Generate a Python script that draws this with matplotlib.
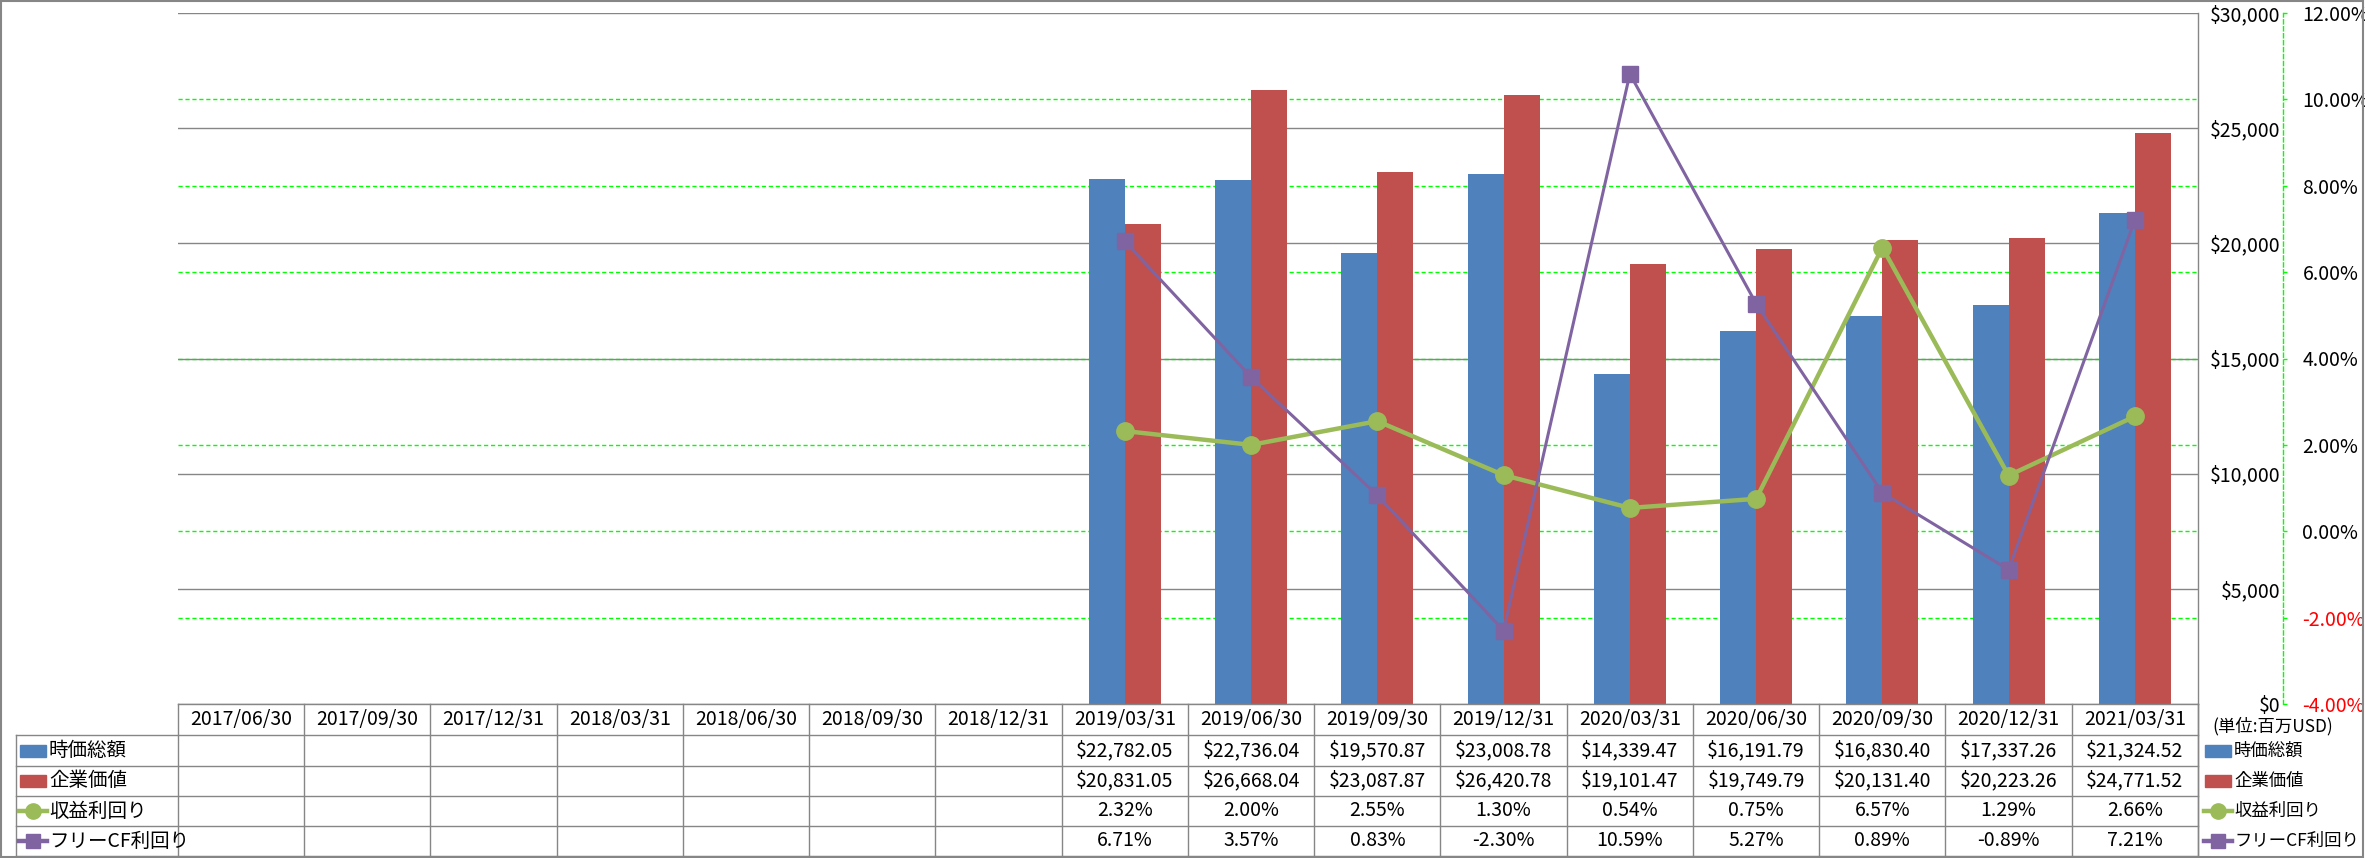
import numpy as np
import matplotlib.pyplot as plt
import matplotlib.transforms as mtransforms
from matplotlib.patches import Rectangle
from matplotlib.ticker import FuncFormatter

plt.rcParams['font.family'] = ['Noto Sans CJK JP', 'DejaVu Sans']

nan = np.nan
dates = ['2017/06/30', '2017/09/30', '2017/12/31', '2018/03/31', '2018/06/30',
         '2018/09/30', '2018/12/31', '2019/03/31', '2019/06/30', '2019/09/30',
         '2019/12/31', '2020/03/31', '2020/06/30', '2020/09/30', '2020/12/31',
         '2021/03/31']
market_cap = [nan, nan, nan, nan, nan, nan, nan,
              22782.05, 22736.04, 19570.87, 23008.78, 14339.47,
              16191.79, 16830.40, 17337.26, 21324.52]
ent_value = [nan, nan, nan, nan, nan, nan, nan,
             20831.05, 26668.04, 23087.87, 26420.78, 19101.47,
             19749.79, 20131.40, 20223.26, 24771.52]
earn_yield = [nan, nan, nan, nan, nan, nan, nan,
              2.32, 2.00, 2.55, 1.30, 0.54, 0.75, 6.57, 1.29, 2.66]
fcf_yield = [nan, nan, nan, nan, nan, nan, nan,
             6.71, 3.57, 0.83, -2.30, 10.59, 5.27, 0.89, -0.89, 7.21]
series_names = ['時価総額', '企業価値', '収益利回り', 'フリーCF利回り']
usd_ticks = [0, 5000, 10000, 15000, 20000, 25000, 30000]
pct_ticks = [-4, -2, 0, 2, 4, 6, 8, 10, 12]

BLUE = '#4F81BD'
RED = '#C0504D'
GREEN = '#9BBB59'
PURPLE = '#8064A2'
GRAY = '#868686'
LIME = '#00FF00'

W, H = 2365, 858
PL, PR, PT, PB = 178, 2198, 13, 704   # plot area in pixels

fig = plt.figure(figsize=(W / 100, H / 100), dpi=100)
ax = fig.add_axes([PL / W, 1 - PB / H, (PR - PL) / W, (PB - PT) / H])
ax2 = ax.twinx()

x = np.arange(len(dates))
bw = 0.2857
ax.bar(x - bw / 2, market_cap, bw, color=BLUE, zorder=2)
ax.bar(x + bw / 2, ent_value, bw, color=RED, zorder=2)

# percent gridlines drawn behind the bars (and under the gray ones)
trans = mtransforms.blended_transform_factory(ax.transAxes, ax2.transData)
for p in pct_ticks[1:-1]:
    ax.plot([0, 1], [p, p], transform=trans, color=LIME, lw=1.0,
            ls=(0, (3, 2)), zorder=0.3)

ax.set_xlim(-0.5, len(dates) - 0.5)
ax.set_ylim(0, 30000)
ax.set_xticks([])
ax.set_yticks(usd_ticks)
ax.yaxis.tick_right()
ax.yaxis.set_major_formatter(FuncFormatter(lambda v, p: f'${v:,.0f}'))
ax.tick_params(axis='y', length=0, pad=59, labelsize=14)
plt.setp(ax.get_yticklabels(), ha='right')
ax.grid(axis='y', color=GRAY, lw=1.0)
ax.set_axisbelow(True)
for s in ['left', 'top', 'bottom']:
    ax.spines[s].set_visible(False)
ax.spines['right'].set_color(GRAY)
ax.spines['right'].set_linewidth(1.0)

ax2.plot(x, earn_yield, color=GREEN, lw=3.2, marker='o', ms=12.5, zorder=3)
ax2.plot(x, fcf_yield, color=PURPLE, lw=2.2, marker='s', ms=11, zorder=4)
ax2.set_ylim(-4, 12)
ax2.set_yticks(pct_ticks)
ax2.yaxis.set_major_formatter(FuncFormatter(lambda v, p: f'{v:.2f}%'))
for s in ['left', 'top', 'bottom']:
    ax2.spines[s].set_visible(False)
ax2.spines['right'].set_position(('outward', 61.2))
ax2.spines['right'].set_color(LIME)
ax2.spines['right'].set_linestyle((0, (3, 2)))
ax2.spines['right'].set_linewidth(1.0)
ax2.tick_params(axis='y', colors=LIME, labelcolor='black', length=3,
                width=1, pad=11, labelsize=14)
for val, lab in zip(pct_ticks, ax2.get_yticklabels()):
    if val < 0:
        lab.set_color('red')

# overlay in pixel coordinates for the data table and the outer frame
ov = fig.add_axes([0, 0, 1, 1], zorder=5)
ov.set_xlim(0, W)
ov.set_ylim(H, 0)
ov.axis('off')
ov.patch.set_alpha(0)

col_w = (PR - PL) / len(dates)
rows_y = [704, 735, 766, 796, 826, 856]
LL = 16
lc = dict(color=GRAY, lw=1.0)
ov.plot([PL, PR], [rows_y[0], rows_y[0]], **lc)
for yy in rows_y[1:]:
    ov.plot([LL, PR], [yy, yy], **lc)
for k in range(len(dates) + 1):
    xx = PL + k * col_w
    ov.plot([xx, xx], [rows_y[0], rows_y[-1]], **lc)
ov.plot([LL, LL], [rows_y[1], rows_y[-1]], **lc)
ov.plot([PR, PR], [PB, H - 1], **lc)

centers = [(rows_y[i] + rows_y[i + 1]) / 2 for i in range(5)]
for i, d in enumerate(dates):
    cx = PL + (i + 0.5) * col_w
    ov.text(cx, centers[0], d, ha='center', va='center', fontsize=14)
    vals = [market_cap[i], ent_value[i], earn_yield[i], fcf_yield[i]]
    for r, v in enumerate(vals):
        if np.isnan(v):
            continue
        s = f'${v:,.2f}' if r < 2 else f'{v:.2f}%'
        ov.text(cx, centers[r + 1], s, ha='center', va='center', fontsize=14)


def legend_key(x0, cy, r):
    if r == 0 or r == 1:
        ov.add_patch(Rectangle((x0, cy - 6), 26, 12,
                               color=BLUE if r == 0 else RED))
    elif r == 2:
        ov.plot([x0 - 1, x0 + 27], [cy, cy], color=GREEN, lw=3.2)
        ov.plot([x0 + 13], [cy], color=GREEN, marker='o', ms=11)
    else:
        ov.plot([x0 - 1, x0 + 27], [cy, cy], color=PURPLE, lw=3.2)
        ov.plot([x0 + 13], [cy], color=PURPLE, marker='s', ms=10)


for r, name in enumerate(series_names):
    cy = centers[r + 1]
    legend_key(20, cy, r)
    ov.text(49, cy, name, ha='left', va='center', fontsize=14)
    legend_key(2205, cy, r)
    ov.text(2234, cy, name, ha='left', va='center', fontsize=12.5)

ov.text(2212, 726, '(単位:百万USD)', ha='left', va='center', fontsize=12.5)

ov.add_patch(Rectangle((1, 1), W - 3, H - 2, fill=False, edgecolor=GRAY, lw=1.5))

fig.savefig('out.png', dpi=100)
